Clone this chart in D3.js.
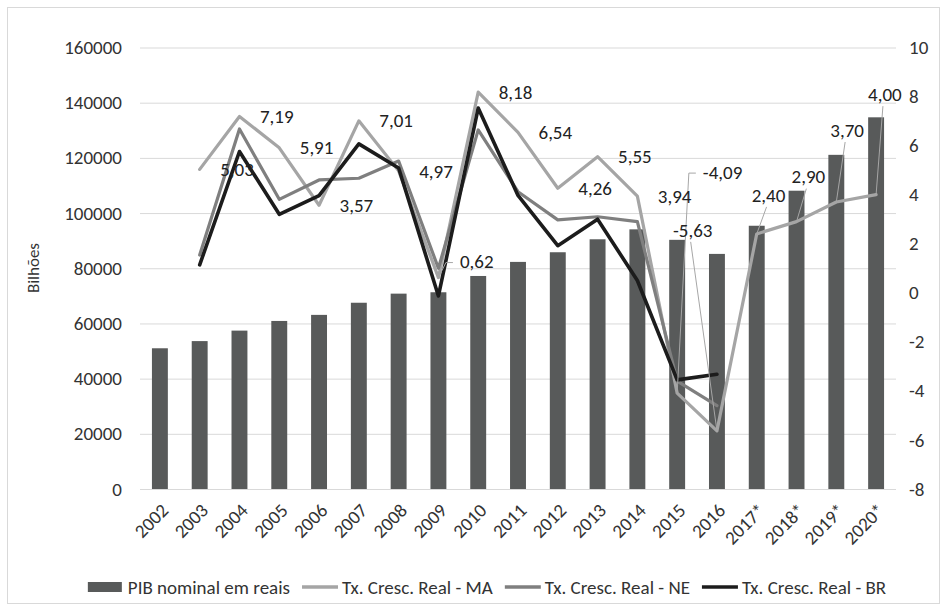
<!DOCTYPE html>
<html>
<head>
<meta charset="utf-8">
<script src="https://cdn.jsdelivr.net/npm/d3@7"></script>
<style>
  body { margin: 0; background: #fff; }
  text { font-family: Carlito, Calibri, Lato, sans-serif; fill: #333; }
</style>
</head>
<body>
<svg width="947" height="611"></svg>
<script>
// Data
var years = ["2002", "2003", "2004", "2005", "2006", "2007", "2008", "2009", "2010", "2011",
	"2012", "2013", "2014", "2015", "2016", "2017*", "2018*", "2019*", "2020*"];
var pibNominal = [51000, 53600, 57400, 60900, 63100, 67500, 70800, 71300, 77200, 82300,
	85800, 90500, 94100, 90300, 85200, 95400, 108100, 121100, 134700];
var txMA = [null, 5.03, 7.19, 5.91, 3.57, 7.01, 4.97, 0.62, 8.18, 6.54,
	4.26, 5.55, 3.94, -4.09, -5.63, 2.40, 2.90, 3.70, 4.00];
var txNE = [null, 1.54, 6.68, 3.81, 4.60, 4.67, 5.37, 1.00, 6.64, 4.12,
	2.97, 3.10, 2.90, -3.60, -4.60, null, null, null, null];
var txBR = [null, 1.14, 5.76, 3.20, 3.96, 6.07, 5.09, -0.13, 7.53, 3.97,
	1.92, 3.00, 0.50, -3.55, -3.32, null, null, null, null];
var leftTicks = [0, 20000, 40000, 60000, 80000, 100000, 120000, 140000, 160000];
var rightTicks = [-8, -6, -4, -2, 0, 2, 4, 6, 8, 10];
var legendNames = ["PIB nominal em reais", "Tx. Cresc. Real - MA", "Tx. Cresc. Real - NE", "Tx. Cresc. Real - BR"];

// where the MA labels sit relative to their point (dx, dy) and what leader they use
var labelMoves = {
	"2009": { dx: 21.5, dy: -16, leader: "left" },
	"2015": { dx: 25.7, dy: -221, leader: "left" },
	"2016": { dx: -44, dy: -201, leader: "below" },
	"2017*": { dx: -5, dy: -39, leader: "below" },
	"2018*": { dx: -5, dy: -45, leader: "below" },
	"2019*": { dx: -6, dy: -72, leader: "below" },
	"2020*": { dx: -8, dy: -100.5, leader: "below" }
};

var colBar = "#585a5a", colMA = "#a5a5a5", colNE = "#7f7f7f", colBR = "#1c1c1c";
var fontSize = 19;

var svg = d3.select("svg"),
	width = +svg.attr("width"),
	height = +svg.attr("height");

// pt-BR style numbers: decimal comma, plain hyphen for minus
var ptBR = d3.formatLocale({ decimal: ",", thousands: ".", grouping: [3], currency: ["R$", ""], minus: "-" });
var fmt = ptBR.format(".2f");
var fmtInt = ptBR.format("d");

// chart border
svg.append("rect")
	.attr("x", 7.5).attr("y", 7.5)
	.attr("width", width - 15).attr("height", height - 15)
	.attr("fill", "none")
	.attr("stroke", "#d9d9d9");

var plotLeft = 140, plotRight = 896, plotTop = 47.5, plotBottom = 489;

var x = d3.scaleBand()
	.domain(years)
	.range([plotLeft, plotRight])
	.paddingInner(0.6)
	.paddingOuter(0.3);
var cx = function (yr) { return x(yr) + x.bandwidth() / 2; };

var yL = d3.scaleLinear().domain([0, 160000]).range([plotBottom, plotTop]);
var yR = d3.scaleLinear().domain([-8, 10]).range([plotBottom, plotTop]);

// gridlines
svg.append("g")
	.attr("transform", "translate(" + plotLeft + ",0)")
	.call(d3.axisLeft(yL).tickValues(leftTicks).tickSize(-(plotRight - plotLeft)).tickFormat(""))
	.call(function (g) { g.select(".domain").remove(); })
	.selectAll("line")
	.attr("stroke", "#d9d9d9");

// left axis
svg.append("g")
	.attr("transform", "translate(" + plotLeft + ",0)")
	.call(d3.axisLeft(yL).tickValues(leftTicks).tickSize(0).tickPadding(18).tickFormat(d3.format("d")))
	.call(function (g) { g.select(".domain").remove(); })
	.selectAll("text")
	.style("font-size", fontSize + "px")
	.style("font-family", null);

// right axis
svg.append("g")
	.attr("transform", "translate(" + plotRight + ",0)")
	.call(d3.axisRight(yR).tickValues(rightTicks).tickSize(0).tickPadding(13).tickFormat(fmtInt))
	.call(function (g) { g.select(".domain").remove(); })
	.selectAll("text")
	.style("font-size", fontSize + "px")
	.style("font-family", null);

// bottom axis, rotated labels
svg.append("g")
	.attr("transform", "translate(0," + plotBottom + ")")
	.call(d3.axisBottom(x).tickSize(0))
	.call(function (g) { g.select(".domain").remove(); })
	.selectAll("text")
	.attr("y", 0)
	.attr("dy", "0.35em")
	.attr("text-anchor", "end")
	.attr("transform", "translate(5,18) rotate(-45)")
	.style("font-size", fontSize + "px")
	.style("font-family", null);

// y title
svg.append("text")
	.attr("transform", "translate(39,268) rotate(-90)")
	.attr("text-anchor", "middle")
	.style("font-size", "17px")
	.text("Bilhões");

// bars
svg.append("g")
	.selectAll("rect")
	.data(years)
	.enter()
	.append("rect")
	.attr("x", function (d) { return x(d); })
	.attr("y", function (d, i) { return yL(pibNominal[i]); })
	.attr("width", x.bandwidth())
	.attr("height", function (d, i) { return yL(0) - yL(pibNominal[i]); })
	.attr("fill", colBar);

// lines
var line = d3.line()
	.defined(function (d) { return d.v != null; })
	.x(function (d) { return cx(d.yr); })
	.y(function (d) { return yR(d.v); });

function pairs(vals) {
	return years.map(function (yr, i) { return { yr: yr, v: vals[i] }; });
}

[[txMA, colMA, 3.2], [txNE, colNE, 3.2], [txBR, colBR, 3.6]].forEach(function (s) {
	svg.append("path")
		.datum(pairs(s[0]))
		.attr("d", line)
		.attr("fill", "none")
		.attr("stroke", s[1])
		.attr("stroke-width", s[2])
		.attr("stroke-linejoin", "round")
		.attr("stroke-linecap", "round");
});

// MA data labels
var labels = svg.append("g");
pairs(txMA).forEach(function (d) {
	if (d.v == null) return;
	var px = cx(d.yr), py = yR(d.v);
	var mv = labelMoves[d.yr] || { dx: 20.5, dy: 0 };
	var tx = px + mv.dx, ty = py + mv.dy;
	var t = labels.append("text")
		.attr("x", tx)
		.attr("y", ty)
		.attr("dy", "0.35em")
		.style("font-size", fontSize + "px")
		.style("fill", "#222")
		.text(fmt(d.v));
	var w = t.node().getComputedTextLength();
	if (mv.leader === "left") {
		labels.insert("polyline", "text")
			.attr("points", [[px, py], [tx - 14, ty + 1], [tx - 7, ty + 1]].join(" "))
			.attr("fill", "none")
			.attr("stroke", "#a6a6a6")
			.attr("stroke-width", 1);
	} else if (mv.leader === "below") {
		labels.insert("line", "text")
			.attr("x1", tx + w / 2 - 2).attr("y1", ty + 12)
			.attr("x2", px).attr("y2", py)
			.attr("stroke", "#a6a6a6")
			.attr("stroke-width", 1);
	}
});

// legend
var legend = svg.append("g");
var lx = 0, swW = 36, ly = 587;
legendNames.forEach(function (name, i) {
	if (i === 0) {
		legend.append("rect")
			.attr("x", lx).attr("y", ly - 5)
			.attr("width", 34).attr("height", 10)
			.attr("fill", colBar);
	} else {
		legend.append("line")
			.attr("x1", lx).attr("x2", lx + swW)
			.attr("y1", ly).attr("y2", ly)
			.attr("stroke", [colBar, colMA, colNE, colBR][i])
			.attr("stroke-width", 3.5);
	}
	var t = legend.append("text")
		.attr("x", lx + swW + 4)
		.attr("y", ly)
		.attr("dy", "0.35em")
		.style("font-size", fontSize + "px")
		.text(name);
	lx += swW + 4 + t.node().getComputedTextLength() + 12;
});
var lw = lx - 12;
legend.attr("transform", "translate(" + (487 - lw / 2) + ",0)");
</script>
</body>
</html>
